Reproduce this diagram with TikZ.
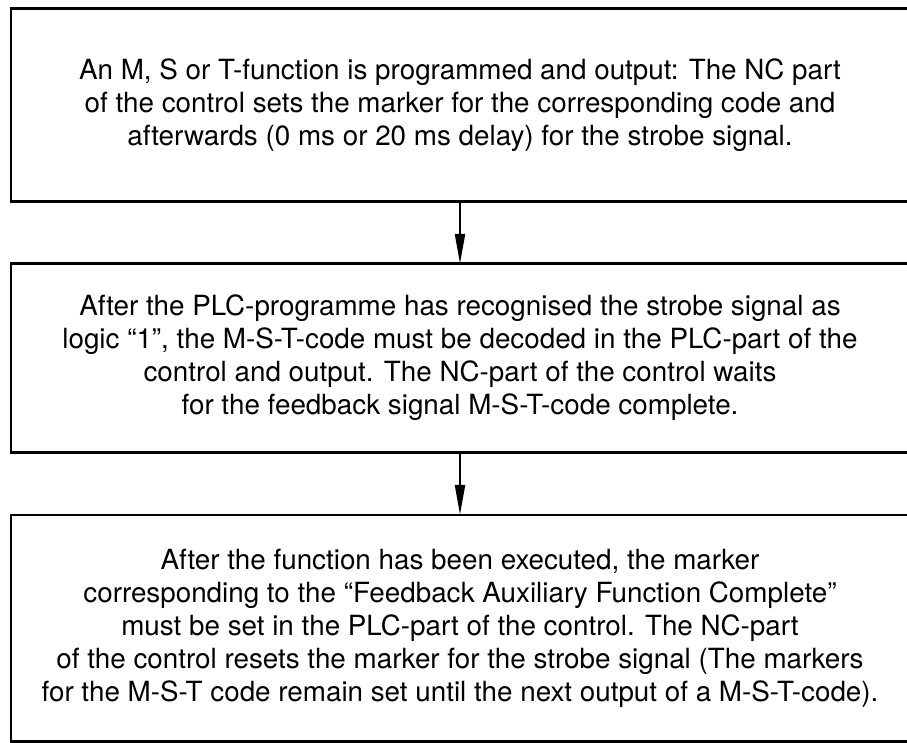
\documentclass[tikz,border=0pt]{standalone}
\usepackage{fontspec}
\setmainfont{TeX Gyre Heros}
\usetikzlibrary{arrows.meta}
\begin{document}
\begin{tikzpicture}[x=1pt,y=-1pt,
	font=\fontsize{27.8}{33}\selectfont,
	stepbox/.style={minimum width=898pt,align=center,inner sep=0pt},
	boxline/.style={line width=2.6pt},
	flow/.style={line width=2.2pt,-{Triangle[length=30pt,width=10pt]}}]
		\useasboundingbox (0,0) rectangle (907,743);
		\clip (0,0) rectangle (907,743);
		\path
		(460,105) node[stepbox,minimum height=193pt] (first)
		{An M, S or T-function is programmed and output: The NC part\\
		of the control sets the marker for the corresponding code and\\
		afterwards (0 ms or 20 ms delay) for the strobe signal.}
		(460,358) node[stepbox,minimum height=188pt] (second)
		{After the PLC-programme has recognised the strobe signal as\\
		logic “1”, the M-S-T-code must be decoded in the PLC-part of the\\
		control and output. The NC-part of the control waits\\
		for the feedback signal M-S-T-code complete.}
		(460,628) node[stepbox,minimum height=226pt] (third)
		{After the function has been executed, the marker\\
		corresponding to the “Feedback Auxiliary Function Complete”\\
		must be set in the PLC-part of the control. The NC-part\\
		of the control resets the marker for the strobe signal (The markers\\
		for the M-S-T code remain set until the next output of a M-S-T-code).}
		;
		% boxes run out past the right edge of the page
		\foreach \b in {first,second,third}
		\draw[boxline] ([xshift=40pt]\b.north east) -- (\b.north west)
		-- (\b.south west) -- ([xshift=40pt]\b.south east);
		\draw[flow] (first) -- (second);
		\draw[flow] (second) -- (third);
	
\end{tikzpicture}
\end{document}
